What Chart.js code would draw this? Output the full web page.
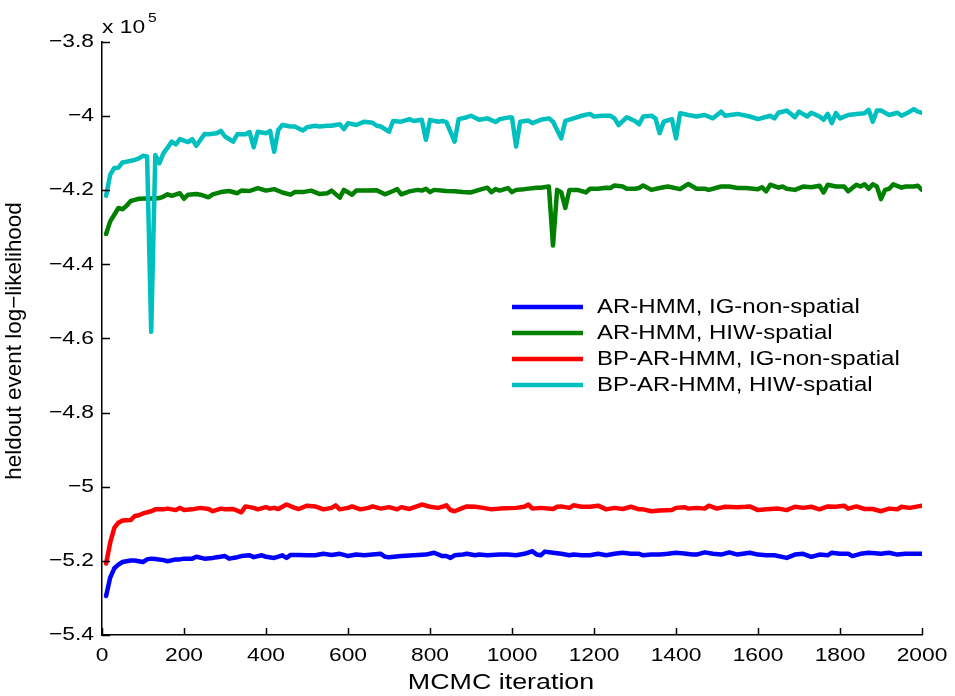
<!DOCTYPE html>
<html>
<head>
<meta charset="utf-8">
<script src="https://cdn.jsdelivr.net/npm/chart.js@4.4.1/dist/chart.umd.min.js"></script>
<style>
  html, body { margin: 0; padding: 0; background: #fff; }
  canvas { display: block; }
</style>
</head>
<body>
<canvas id="llChart" width="955" height="696"></canvas>
<script>
// held-out log-likelihood, in units of 10^5
const xTicks = [0, 200, 400, 600, 800, 1000, 1200, 1400, 1600, 1800, 2000];
const yTicks = [-3.8, -4, -4.2, -4.4, -4.6, -4.8, -5, -5.2, -5.4];
const seriesNames = ['AR-HMM, IG-non-spatial', 'AR-HMM, HIW-spatial', 'BP-AR-HMM, IG-non-spatial', 'BP-AR-HMM, HIW-spatial'];

const arIgIter = [10,20,30,40,50,60,70,80,90,100,110,120,130,150,160,180,190,200,220,230,250,270,280,300,310,330,340,360,370,390,400,420,440,450,460,480,500,520,540,560,580,590,600,620,640,660,680,690,700,730,760,790,810,830,840,850,860,880,890,910,920,940,970,990,1010,1030,1050,1060,1070,1080,1100,1120,1140,1150,1170,1190,1210,1230,1250,1270,1290,1310,1320,1340,1360,1380,1400,1420,1440,1450,1470,1490,1510,1530,1550,1580,1600,1620,1640,1670,1690,1710,1730,1750,1770,1780,1800,1820,1830,1850,1870,1900,1920,1940,1960,1980,2000];
const arIgLL = [-5.295,-5.245,-5.22,-5.21,-5.203,-5.201,-5.199,-5.199,-5.201,-5.203,-5.196,-5.194,-5.195,-5.198,-5.201,-5.196,-5.196,-5.194,-5.194,-5.189,-5.194,-5.192,-5.19,-5.187,-5.194,-5.19,-5.187,-5.185,-5.19,-5.185,-5.189,-5.192,-5.185,-5.192,-5.184,-5.184,-5.185,-5.185,-5.181,-5.184,-5.181,-5.184,-5.187,-5.183,-5.185,-5.183,-5.181,-5.189,-5.19,-5.187,-5.185,-5.183,-5.178,-5.187,-5.187,-5.192,-5.185,-5.183,-5.181,-5.185,-5.183,-5.185,-5.183,-5.183,-5.185,-5.181,-5.174,-5.183,-5.185,-5.175,-5.178,-5.181,-5.185,-5.183,-5.185,-5.185,-5.181,-5.185,-5.181,-5.178,-5.181,-5.181,-5.185,-5.183,-5.183,-5.181,-5.178,-5.18,-5.183,-5.183,-5.177,-5.181,-5.183,-5.177,-5.183,-5.178,-5.183,-5.185,-5.185,-5.192,-5.183,-5.181,-5.189,-5.183,-5.185,-5.178,-5.181,-5.181,-5.187,-5.181,-5.178,-5.181,-5.178,-5.183,-5.181,-5.181,-5.181];

const arHiwIter = [10,20,30,40,50,60,70,80,90,110,130,140,150,160,170,190,200,210,230,240,260,270,290,310,330,340,360,380,400,420,440,460,470,490,510,530,550,560,580,590,610,620,640,670,690,710,720,730,750,770,780,790,800,810,840,860,880,900,920,940,950,960,970,990,1000,1010,1030,1060,1070,1090,1100,1110,1120,1130,1140,1160,1180,1190,1210,1230,1240,1250,1270,1280,1300,1310,1320,1340,1360,1380,1410,1430,1450,1470,1480,1510,1530,1550,1570,1600,1610,1620,1630,1650,1660,1670,1690,1710,1730,1750,1760,1770,1790,1810,1820,1840,1850,1860,1870,1880,1890,1900,1910,1920,1930,1950,1960,1980,1990,2000];
const arHiwLL = [-4.318,-4.284,-4.266,-4.248,-4.251,-4.242,-4.229,-4.226,-4.223,-4.222,-4.222,-4.221,-4.217,-4.211,-4.215,-4.208,-4.223,-4.212,-4.21,-4.212,-4.219,-4.211,-4.205,-4.202,-4.208,-4.201,-4.202,-4.194,-4.201,-4.197,-4.206,-4.212,-4.205,-4.205,-4.201,-4.21,-4.208,-4.201,-4.22,-4.199,-4.212,-4.201,-4.201,-4.2,-4.211,-4.202,-4.197,-4.211,-4.203,-4.199,-4.201,-4.196,-4.205,-4.199,-4.202,-4.203,-4.205,-4.206,-4.199,-4.193,-4.205,-4.197,-4.201,-4.194,-4.205,-4.199,-4.197,-4.193,-4.193,-4.19,-4.349,-4.199,-4.205,-4.248,-4.199,-4.199,-4.206,-4.196,-4.196,-4.193,-4.194,-4.187,-4.19,-4.196,-4.196,-4.194,-4.187,-4.199,-4.194,-4.19,-4.197,-4.183,-4.196,-4.196,-4.199,-4.19,-4.19,-4.194,-4.194,-4.197,-4.192,-4.203,-4.185,-4.193,-4.19,-4.196,-4.199,-4.19,-4.192,-4.188,-4.206,-4.185,-4.19,-4.19,-4.203,-4.185,-4.19,-4.184,-4.196,-4.184,-4.19,-4.224,-4.199,-4.196,-4.184,-4.193,-4.19,-4.19,-4.188,-4.199];

const bpIgIter = [10,20,30,40,50,70,80,90,100,120,130,150,160,180,190,200,220,240,260,270,290,300,320,340,350,370,380,400,410,420,430,450,470,480,500,520,540,560,570,580,600,610,630,650,660,680,700,720,730,750,780,800,820,830,840,850,860,880,890,910,930,950,970,1010,1030,1040,1050,1070,1100,1110,1120,1140,1150,1170,1190,1210,1230,1250,1270,1290,1310,1320,1340,1360,1390,1400,1420,1430,1450,1470,1480,1500,1520,1550,1570,1580,1600,1620,1650,1670,1690,1710,1730,1750,1770,1790,1810,1820,1840,1860,1880,1900,1920,1940,1950,1970,1990,2000];
const bpIgLL = [-5.207,-5.151,-5.111,-5.097,-5.091,-5.09,-5.079,-5.077,-5.072,-5.066,-5.061,-5.061,-5.059,-5.063,-5.057,-5.063,-5.061,-5.057,-5.06,-5.066,-5.059,-5.061,-5.06,-5.069,-5.053,-5.057,-5.061,-5.055,-5.059,-5.057,-5.06,-5.048,-5.057,-5.06,-5.051,-5.053,-5.061,-5.057,-5.05,-5.061,-5.057,-5.053,-5.061,-5.057,-5.053,-5.059,-5.055,-5.061,-5.055,-5.06,-5.048,-5.054,-5.057,-5.054,-5.05,-5.063,-5.066,-5.057,-5.053,-5.054,-5.057,-5.061,-5.059,-5.057,-5.054,-5.048,-5.059,-5.057,-5.06,-5.054,-5.053,-5.057,-5.05,-5.054,-5.054,-5.051,-5.061,-5.057,-5.06,-5.054,-5.061,-5.061,-5.066,-5.064,-5.063,-5.057,-5.055,-5.059,-5.057,-5.059,-5.051,-5.059,-5.054,-5.055,-5.054,-5.053,-5.063,-5.061,-5.059,-5.063,-5.054,-5.057,-5.054,-5.061,-5.053,-5.054,-5.051,-5.059,-5.053,-5.06,-5.06,-5.066,-5.059,-5.061,-5.054,-5.057,-5.053,-5.051];

const bpHiwIter = [10,20,30,40,50,60,80,90,100,110,120,130,140,150,160,170,180,190,210,220,230,250,260,280,290,300,320,330,350,360,370,380,400,410,420,430,440,460,470,490,500,520,530,550,560,580,590,600,620,640,660,670,680,700,710,730,750,760,780,790,800,820,830,840,860,870,890,900,920,940,960,970,990,1000,1010,1020,1040,1050,1070,1090,1100,1120,1130,1150,1170,1190,1200,1220,1240,1250,1260,1280,1300,1310,1320,1340,1350,1360,1370,1390,1400,1410,1430,1450,1470,1490,1510,1520,1550,1580,1600,1630,1640,1650,1670,1690,1700,1720,1730,1750,1760,1770,1780,1790,1800,1820,1840,1860,1870,1880,1890,1900,1920,1940,1950,1970,1980,1990,2000];
const bpHiwLL = [-4.215,-4.158,-4.14,-4.139,-4.125,-4.123,-4.118,-4.114,-4.107,-4.109,-4.582,-4.105,-4.127,-4.1,-4.085,-4.069,-4.076,-4.062,-4.07,-4.062,-4.08,-4.048,-4.049,-4.046,-4.04,-4.055,-4.069,-4.049,-4.049,-4.043,-4.084,-4.042,-4.046,-4.04,-4.096,-4.037,-4.024,-4.028,-4.028,-4.039,-4.03,-4.026,-4.028,-4.026,-4.026,-4.022,-4.035,-4.019,-4.024,-4.015,-4.018,-4.026,-4.028,-4.042,-4.013,-4.015,-4.008,-4.013,-4.01,-4.064,-4.01,-4.015,-4.013,-4.016,-4.069,-4.008,-4.003,-3.999,-4.01,-4.006,-4.016,-4.008,-4.004,-4.004,-4.082,-4.015,-4.012,-4.019,-4.01,-4.006,-4.015,-4.06,-4.013,-4.006,-3.999,-3.994,-4.001,-3.999,-3.999,-4.006,-4.024,-4.003,-4.013,-4.022,-4.001,-3.999,-4.006,-4.046,-4.015,-4.008,-4.06,-3.992,-3.997,-4.001,-3.997,-4.006,-3.988,-3.999,-3.994,-4.001,-4.008,-3.999,-4.006,-3.991,-3.985,-4.003,-3.988,-4.001,-3.991,-4.001,-4.01,-3.994,-4.019,-3.992,-4.006,-3.997,-3.994,-3.992,-3.983,-4.015,-3.985,-3.985,-3.997,-3.991,-3.999,-3.988,-3.981,-3.988,-3.991];

const lineColors = ['#0000ff', '#008000', '#ff0000', '#00bfbf'];

const FONT = '"Liberation Sans", Arial, Helvetica, sans-serif';

function pts(iters, vals) {
  return iters.map((it, i) => ({ x: it, y: vals[i] }));
}

function fmtY(v) {
  return String(+v.toFixed(1)).replace('-', '\u2212');
}

// text in the figure is a bit wider than tall, so draw it with a horizontal stretch
function wideText(ctx, str, x, y, size, align, baseline, stretch, rotate) {
  ctx.save();
  ctx.translate(x, y);
  if (rotate) ctx.rotate(-Math.PI / 2);
  ctx.scale(stretch, 1);
  ctx.font = size + 'px ' + FONT;
  ctx.textAlign = align;
  ctx.textBaseline = baseline;
  ctx.fillStyle = '#000';
  ctx.fillText(str, 0, 0);
  ctx.restore();
}

const matlabLook = {
  id: 'matlabLook',
  afterDraw(chart) {
    const { ctx, chartArea: a, scales: { x, y } } = chart;

    // inward tick marks
    ctx.save();
    ctx.strokeStyle = '#000';
    ctx.lineWidth = 1.5;
    ctx.beginPath();
    xTicks.forEach(v => {
      const px = Math.round(x.getPixelForValue(v)) + 0.5;
      ctx.moveTo(px, a.bottom);
      ctx.lineTo(px, a.bottom - 7);
    });
    yTicks.forEach(v => {
      const py = Math.round(y.getPixelForValue(v)) + 0.5;
      ctx.moveTo(a.left, py);
      ctx.lineTo(a.left + 8, py);
    });
    ctx.stroke();
    ctx.restore();

    xTicks.forEach(v => wideText(ctx, String(v), x.getPixelForValue(v), a.bottom + 11, 19, 'center', 'top', 1.2));
    yTicks.forEach(v => wideText(ctx, fmtY(v), a.left - 8, y.getPixelForValue(v), 19, 'right', 'middle', 1.2));

    // exponent label
    wideText(ctx, 'x 10', a.left, a.top - 9, 19, 'left', 'alphabetic', 1.2);
    wideText(ctx, '5', a.left + 46, a.top - 20, 13, 'left', 'alphabetic', 1.2);

    // axis titles
    wideText(ctx, 'MCMC iteration', 501, 683, 22, 'center', 'middle', 1.22);
    wideText(ctx, 'heldout event log\u2212likelihood', 15, 341, 22, 'center', 'middle', 1.02, true);

    // legend
    const lx0 = 512, lx1 = 583, tx = 597;
    const rowY = [307, 333, 359, 385];
    seriesNames.forEach((name, i) => {
      ctx.save();
      ctx.strokeStyle = lineColors[i];
      ctx.lineWidth = 4.5;
      ctx.beginPath();
      ctx.moveTo(lx0, rowY[i]);
      ctx.lineTo(lx1, rowY[i]);
      ctx.stroke();
      ctx.restore();
      wideText(ctx, name, tx, rowY[i], 20, 'left', 'middle', 1.2);
    });
  }
};

const seriesData = [
  pts(arIgIter, arIgLL),
  pts(arHiwIter, arHiwLL),
  pts(bpIgIter, bpIgLL),
  pts(bpHiwIter, bpHiwLL)
];

new Chart(document.getElementById('llChart').getContext('2d'), {
  type: 'line',
  data: {
    datasets: seriesData.map((d, i) => ({
      label: seriesNames[i],
      data: d,
      borderColor: lineColors[i],
      backgroundColor: lineColors[i],
      borderWidth: 4.5,
      borderJoinStyle: 'round',
      borderCapStyle: 'round',
      pointRadius: 0,
      tension: 0,
      fill: false,
      order: i === 3 ? 0 : 1
    }))
  },
  options: {
    responsive: false,
    animation: false,
    layout: { padding: { top: 42, right: 33, left: 0, bottom: 0 } },
    plugins: { legend: { display: false }, tooltip: { enabled: false } },
    scales: {
      x: {
        type: 'linear',
        min: 0,
        max: 2000,
        grid: { display: false },
        border: { display: true, color: '#000', width: 1.5 },
        ticks: { display: false, stepSize: 200 },
        afterFit: s => { s.height = 61; }
      },
      y: {
        type: 'linear',
        min: -5.4,
        max: -3.8,
        grid: { display: false },
        border: { display: true, color: '#000', width: 1.5 },
        ticks: { display: false, stepSize: 0.2 },
        afterFit: s => { s.width = 102; }
      }
    }
  },
  plugins: [matlabLook]
});
</script>
</body>
</html>
